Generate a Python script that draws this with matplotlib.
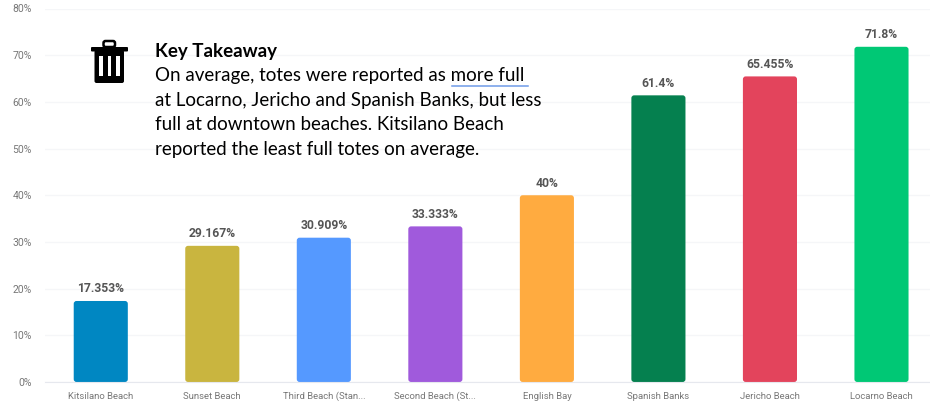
import matplotlib
matplotlib.use('Agg')
from matplotlib import pyplot as plt
from matplotlib.patches import FancyBboxPatch, Rectangle

beaches = ['Kitsilano Beach', 'Sunset Beach', 'Third Beach (Stan...', 'Second Beach (St...',
           'English Bay', 'Spanish Banks', 'Jericho Beach', 'Locarno Beach']
values = [17.353, 29.167, 30.909, 33.333, 40, 61.4, 65.455, 71.8]
value_labels = ['17.353%', '29.167%', '30.909%', '33.333%', '40%', '61.4%', '65.455%', '71.8%']
colors = ['#0087C2', '#C9B53F', '#5599FF', '#A05ADC', '#FFAB40', '#05804F', '#E3445C', '#00C875']
y_ticks = [0, 10, 20, 30, 40, 50, 60, 70, 80]

W, H = 930, 405
fig = plt.figure(figsize=(W / 100, H / 100), dpi=100)

# plot area in pixels: left 45, zero line 382, 80% line 8.5
ax = fig.add_axes([45 / W, (H - 382) / H, (W - 45) / W, 373.5 / H])
ax.set_xlim(-0.5, 7.435)
ax.set_ylim(0, 80)
ax.set_axisbelow(True)
ax.grid(axis='y', color='#f5f6f8', lw=1)
for side in ['top', 'right', 'left']:
    ax.spines[side].set_visible(False)
ax.spines['bottom'].set_color('#e6e8ee')
ax.tick_params(length=0)

bars = ax.bar(range(len(values)), values, width=0.485, color='none')
# swap the plain bars for slightly rounded ones
aspect = (80 / 373.5) / (7.935 / 885)
for b, c in zip(bars, colors):
    ax.add_patch(FancyBboxPatch((b.get_x(), b.get_y()), b.get_width(), b.get_height(),
                                boxstyle='round,pad=0,rounding_size=0.025',
                                mutation_aspect=aspect, fc=c, ec='none'))

for i, (v, lab) in enumerate(zip(values, value_labels)):
    ax.annotate(lab, (i, v), xytext=(0, 4), textcoords='offset points', ha='center', va='bottom',
                fontsize=8.7, fontweight='bold', color='#555555', family='Roboto')

ax.set_xticks(range(len(beaches)))
ax.set_xticklabels(beaches, fontsize=6.8, color='#777777', family='Roboto')
ax.tick_params(axis='x', pad=7)
ax.set_yticks(y_ticks)
ax.set_yticklabels([f'{t}%' for t in y_ticks], fontsize=7.5, color='#777777', family='Roboto')
ax.tick_params(axis='y', pad=9.5)

# overlay in pixel coords for the takeaway box and icon
ov = fig.add_axes([0, 0, 1, 1])
ov.set_xlim(0, W)
ov.set_ylim(H, 0)
ov.axis('off')

ov.text(155, 51, 'Key Takeaway', fontsize=13.5, fontweight='bold', family='Lato', va='center', color='black')
lines = ['On average, totes were reported as more full',
         'at Locarno, Jericho and Spanish Banks, but less',
         'full at downtown beaches. Kitsilano Beach',
         'reported the least full totes on average.']
for y, line in zip([76, 100.5, 125, 150], lines):
    ov.text(155, y, line, fontsize=13.5, family='Lato', va='center', color='black')
ov.plot([452, 528], [85.5, 85.5], color='#6F9BE8', lw=1.1)

# trash can icon
ov.add_patch(FancyBboxPatch((94.5, 50), 29.5, 33, boxstyle='round,pad=0,rounding_size=2', fc='black', ec='none'))
ov.add_patch(FancyBboxPatch((91, 47), 37, 4.5, boxstyle='round,pad=0,rounding_size=1', fc='black', ec='none'))
ov.add_patch(FancyBboxPatch((103.5, 41), 11.5, 6, boxstyle='round,pad=0,rounding_size=2', fc='none', ec='black', lw=1.8))
for x in [99, 107.5, 116]:
    ov.add_patch(Rectangle((x, 55.5), 3.5, 20, fc='white', ec='none'))

fig.savefig('out.png', dpi=100)
